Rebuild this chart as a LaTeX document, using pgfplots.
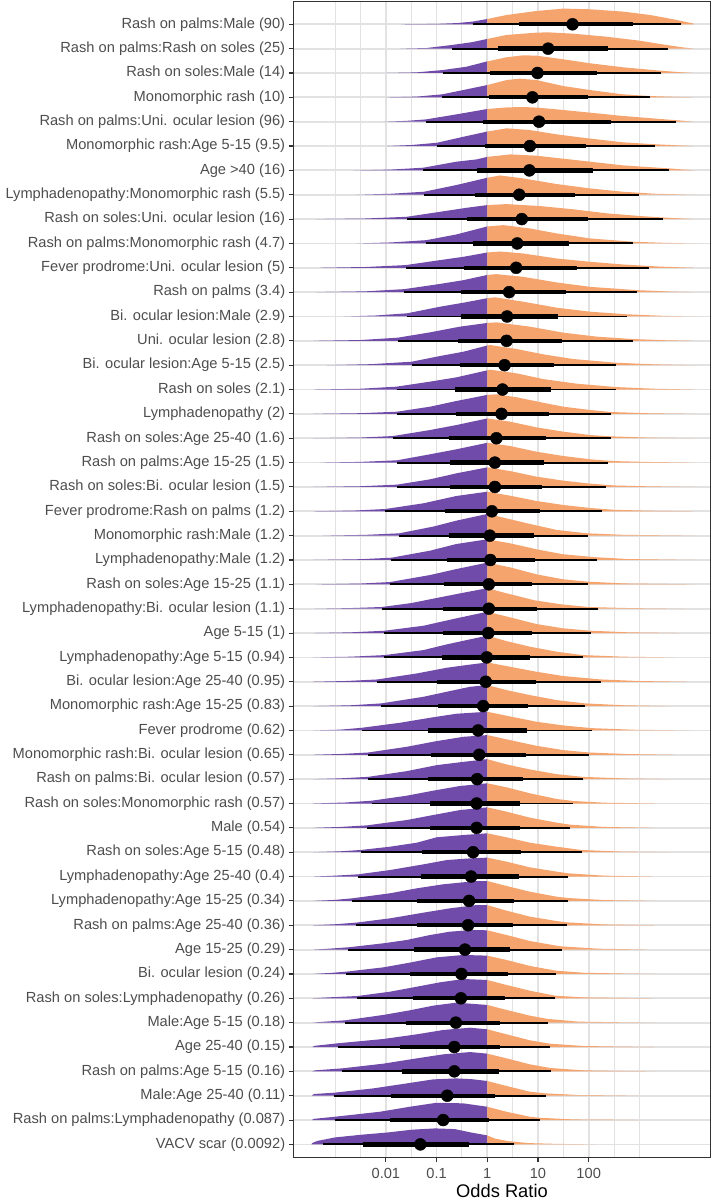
\documentclass[border=0pt]{standalone}
\usepackage{fontspec}
\setmainfont{Liberation Sans}
\usepackage{pgfplots}
\usepackage{pgfplotstable}
\pgfplotsset{compat=1.18}
\definecolor{pur}{RGB}{112,75,170}
\definecolor{ora}{RGB}{245,164,110}
\definecolor{gridc}{RGB}{226,226,226}
\definecolor{g20}{RGB}{51,51,51}
\definecolor{g30}{RGB}{77,77,77}
\newcommand\D[3]{%
 \addplot[fill=pur,draw=none] table[row sep=\\,y expr=#1+\thisrow{b}/24.35]{a b\\#2};
 \addplot[fill=ora,draw=none] table[row sep=\\,y expr=#1+\thisrow{b}/24.35]{a b\\#3};}
\pgfplotstableread{
y m a66 b66 a95 b95
47 1.68 0.63 2.87 -0.29 3.82
46 1.20 0.22 2.39 -0.69 3.57
45 0.99 0.05 2.16 -0.87 3.42
44 0.89 0.03 1.98 -0.89 3.21
43 1.02 -0.09 2.43 -1.21 3.72
42 0.84 -0.05 1.95 -0.99 3.31
41 0.83 -0.21 2.08 -1.26 3.59
40 0.63 -0.24 1.72 -1.25 3.00
39 0.68 -0.41 1.99 -1.59 3.47
38 0.59 -0.28 1.62 -1.20 2.88
37 0.57 -0.46 1.76 -1.61 3.19
36 0.43 -0.51 1.55 -1.64 2.95
35 0.39 -0.51 1.40 -1.58 2.75
34 0.38 -0.57 1.47 -1.76 2.87
33 0.34 -0.54 1.32 -1.49 2.53
32 0.30 -0.63 1.26 -1.79 2.53
31 0.28 -0.62 1.22 -1.78 2.43
30 0.18 -0.76 1.16 -1.86 2.43
29 0.15 -0.74 1.11 -1.78 2.39
28 0.15 -0.74 1.07 -1.78 2.34
27 0.09 -0.84 1.04 -2.01 2.26
26 0.05 -0.76 0.92 -1.74 1.98
25 0.06 -0.80 0.95 -1.89 2.16
24 0.03 -0.85 0.89 -1.92 1.98
23 0.03 -0.87 0.99 -2.07 2.18
22 0.02 -0.87 0.89 -2.03 2.05
21 -0.01 -0.89 0.84 -2.03 1.88
20 -0.03 -1.00 0.96 -2.17 2.24
19 -0.08 -0.97 0.80 -2.09 1.93
18 -0.18 -1.16 0.78 -2.47 2.06
17 -0.16 -1.11 0.76 -2.35 2.01
16 -0.20 -1.16 0.71 -2.35 1.88
15 -0.21 -1.13 0.64 -2.28 1.70
14 -0.21 -1.13 0.64 -2.37 1.63
13 -0.28 -1.28 0.66 -2.50 1.86
12 -0.32 -1.30 0.63 -2.55 1.60
11 -0.36 -1.38 0.53 -2.66 1.59
10 -0.38 -1.38 0.50 -2.59 1.57
9 -0.44 -1.45 0.45 -2.74 1.47
8 -0.51 -1.53 0.40 -2.78 1.35
7 -0.52 -1.46 0.35 -2.56 1.34
6 -0.62 -1.61 0.25 -2.81 1.19
5 -0.65 -1.72 0.25 -2.95 1.24
4 -0.65 -1.69 0.24 -2.86 1.25
3 -0.79 -1.89 0.15 -3.02 1.16
2 -0.87 -1.92 0.03 -3.01 1.03
1 -1.32 -2.45 -0.36 -3.25 0.53
}\iv
\begin{document}
\begin{tikzpicture}
\begin{axis}[
 at={(0,0)}, anchor=south west,
 scale only axis, width=417.4pt, height=1156.2pt,
 xmin=-3.826, xmax=4.406, ymin=0.454, ymax=47.936,
 xtick={-2,-1,0,1,2}, xticklabels={0.01,0.1,1,10,100},
 minor xtick={-3,-2.5,-1.5,-0.5,0.5,1.5,2.5,3},
 ytick={1,...,47},
 yticklabels={VACV scar (0.0092),Rash on palms:Lymphadenopathy (0.087),Male:Age 25-40 (0.11),Rash on palms:Age 5-15 (0.16),Age 25-40 (0.15),Male:Age 5-15 (0.18),Rash on soles:Lymphadenopathy (0.26),Bi. ocular lesion (0.24),Age 15-25 (0.29),Rash on palms:Age 25-40 (0.36),Lymphadenopathy:Age 15-25 (0.34),Lymphadenopathy:Age 25-40 (0.4),Rash on soles:Age 5-15 (0.48),Male (0.54),Rash on soles:Monomorphic rash (0.57),Rash on palms:Bi. ocular lesion (0.57),Monomorphic rash:Bi. ocular lesion (0.65),Fever prodrome (0.62),Monomorphic rash:Age 15-25 (0.83),Bi. ocular lesion:Age 25-40 (0.95),Lymphadenopathy:Age 5-15 (0.94),Age 5-15 (1),Lymphadenopathy:Bi. ocular lesion (1.1),Rash on soles:Age 15-25 (1.1),Lymphadenopathy:Male (1.2),Monomorphic rash:Male (1.2),Fever prodrome:Rash on palms (1.2),Rash on soles:Bi. ocular lesion (1.5),Rash on palms:Age 15-25 (1.5),Rash on soles:Age 25-40 (1.6),Lymphadenopathy (2),Rash on soles (2.1),Bi. ocular lesion:Age 5-15 (2.5),Uni. ocular lesion (2.8),Bi. ocular lesion:Male (2.9),Rash on palms (3.4),Fever prodrome:Uni. ocular lesion (5),Rash on palms:Monomorphic rash (4.7),Rash on soles:Uni. ocular lesion (16),Lymphadenopathy:Monomorphic rash (5.5),Age >40 (16),Monomorphic rash:Age 5-15 (9.5),Rash on palms:Uni. ocular lesion (96),Monomorphic rash (10),Rash on soles:Male (14),Rash on palms:Rash on soles (25),Rash on palms:Male (90)},
 xmajorgrids, xminorgrids, ymajorgrids,
 major grid style={gridc, line width=1.8pt},
 minor grid style={gridc, line width=1.0pt},
 tick align=outside, tick pos=left,
 major tick length=4.6pt, minor tick length=0pt,
 tick style={g20, line width=1.1pt},
 axis line style={g20, line width=1.1pt},
 ticklabel style={font=\fontsize{14.65}{17}\selectfont, text=g30},
 xticklabel style={yshift=-2.5pt},
 xlabel={Odds Ratio},
 xlabel style={font=\fontsize{18.3}{22}\selectfont, at={(axis description cs:0.5,0)}, anchor=base, yshift=-39.6pt},
]
\D{47}{-1.7 0\\-1.0 0.4\\-0.6 1.2\\-0.29 2.7\\0 5.3\\0 0\\}{0 0\\0 5.3\\0.38 9.3\\0.97 13.3\\1.5 15.7\\2.03 15\\2.68 12.7\\3.21 9.3\\3.67 5\\3.95 2\\4.06 0.8\\4.08 0\\}
\D{46}{-1.72 0\\-1.2 0.6\\-0.69 3.7\\-0.3 6.5\\0 9.7\\0 0\\}{0 0\\0 9.7\\0.38 13.7\\0.97 16\\1.2 16.3\\1.69 15\\2.34 12\\3.0 8\\3.53 3.7\\3.85 1.3\\4.08 0\\}
\D{45}{-2.0 0\\-1.4 0.6\\-0.87 3\\-0.41 6.3\\0 11.6\\0 0\\}{0 0\\0 11.6\\0.38 15.7\\0.71 17.7\\0.97 17.3\\1.5 13.7\\2.03 9.7\\2.68 5.7\\3.42 2.3\\3.8 0.8\\4.08 0\\}
\D{44}{-2.0 0\\-1.4 0.7\\-0.89 3\\-0.41 8\\0 12.3\\0 0\\}{0 0\\0 12.3\\0.38 17.3\\0.64 18.7\\0.97 17.3\\1.5 11.3\\2.03 7.3\\2.68 3\\3.21 1.3\\3.7 0.5\\4.08 0\\}
\D{43}{-2.05 0\\-1.6 0.8\\-1.21 2.3\\-0.61 7.3\\0 12.7\\0 0\\}{0 0\\0 12.7\\0.38 14.3\\0.71 14.7\\1.0 14\\1.38 12.3\\2.03 9\\2.68 5.7\\3.34 3\\3.8 1.2\\4.08 0\\}
\D{42}{-2.0 0\\-1.5 1\\-0.99 3.3\\-0.47 9.3\\0 14.5\\0 0\\}{0 0\\0 14.5\\0.38 17.7\\0.84 16\\1.37 11.7\\1.89 8.3\\2.68 3.7\\3.34 1.7\\3.8 0.6\\4.08 0\\}
\D{41}{-2.64 0\\-1.9 0.8\\-1.26 2.7\\-0.61 8.7\\-0.21 11\\0 13.5\\0 0\\}{0 0\\0 13.5\\0.45 16\\0.97 14.7\\1.5 11.7\\2.03 8.7\\2.68 5\\3.59 2\\3.9 0.7\\4.08 0\\}
\D{40}{-2.58 0\\-1.9 1\\-1.25 3\\-0.61 9.7\\0 17\\0 0\\}{0 0\\0 17\\0.25 19.3\\0.71 16.3\\1.37 10.7\\2.03 6.3\\2.68 3\\3.3 1\\3.8 0.4\\4.08 0\\}
\D{39}{-3.37 0\\-2.4 0.6\\-1.59 2.3\\-0.93 7.3\\-0.41 11.3\\0 14\\0 0\\}{0 0\\0 14\\0.38 15\\1.05 13\\1.71 9.7\\2.37 5.7\\3.03 3\\3.6 1.2\\4.08 0\\}
\D{38}{-2.58 0\\-1.9 1\\-1.2 3.3\\-0.61 9\\0 17\\0 0\\}{0 0\\0 17\\0.32 18.3\\0.84 15\\1.37 10\\2.03 5\\2.88 1.7\\3.5 0.6\\4.08 0\\}
\D{37}{-3.3 0\\-2.4 0.8\\-1.61 2.7\\-0.93 7.7\\-0.47 11\\0 15.3\\0 0\\}{0 0\\0 15.3\\0.25 16.3\\0.71 14.3\\1.37 9.3\\2.03 6\\2.68 3.3\\3.4 1.2\\4.08 0\\}
\D{36}{-3.37 0\\-2.4 0.8\\-1.64 3\\-1.0 7.7\\-0.47 12\\0 17.2\\0 0\\}{0 0\\0 17.2\\0.18 18\\0.71 15.3\\1.37 9.7\\2.03 5.3\\2.95 2\\3.6 0.6\\4.08 0\\}
\D{35}{-2.84 0\\-2.2 1\\-1.58 3.2\\-0.93 9.8\\-0.47 13.8\\0 18.3\\0 0\\}{0 0\\0 18.3\\0.15 19.2\\0.71 14.8\\1.37 8.8\\2.03 4.8\\2.75 2.2\\3.5 0.6\\4.08 0\\}
\D{34}{-3.43 0\\-2.5 0.8\\-1.76 3.2\\-1.13 8.5\\-0.54 14.2\\0 17.9\\0 0\\}{0 0\\0 17.9\\0.18 18.5\\0.84 14.2\\1.5 8.2\\2.16 4.2\\2.87 1.8\\3.5 0.6\\4.08 0\\}
\D{33}{-3.17 0\\-2.3 1\\-1.49 3.5\\-0.93 9.2\\-0.47 13.5\\0 19.7\\0 0\\}{0 0\\0 19.7\\0.05 20.2\\0.58 16.2\\1.1 10.9\\1.69 6.2\\2.53 2.5\\3.3 0.8\\4.08 0\\}
\D{32}{-3.43 0\\-2.5 0.8\\-1.79 2.9\\-1.13 7.9\\-0.61 12.2\\0 19.2\\0 0\\}{0 0\\0 19.2\\0.05 19.9\\0.58 16.2\\1.1 10.5\\1.76 5.9\\2.53 2.5\\3.3 0.8\\4.08 0\\}
\D{31}{-3.43 0\\-2.5 0.7\\-1.78 2.2\\-1.13 7.2\\-0.61 12.9\\0 19\\0 0\\}{0 0\\0 19\\0.18 19.6\\0.58 16.6\\1.1 11.2\\1.5 7.2\\2.03 3.9\\2.43 1.9\\3.2 0.6\\4.08 0\\}
\D{30}{-3.43 0\\-2.5 0.7\\-1.86 2.2\\-1.13 8.2\\-0.61 13.2\\0 19.8\\0 0\\}{0 0\\0 19.8\\0.45 16.6\\0.97 10.9\\1.5 6.6\\2.03 3.2\\2.43 1.9\\3.2 0.6\\4.08 0\\}
\D{29}{-3.3 0\\-2.5 0.7\\-1.78 2.3\\-1.13 8.3\\-0.61 13.3\\0 19.8\\0 0\\}{0 0\\0 19.8\\0.45 16.6\\0.97 10.9\\1.5 6.6\\2.03 3.3\\2.5 1.5\\3.2 0.6\\4.08 0\\}
\D{28}{-3.43 0\\-2.5 0.7\\-1.78 2.3\\-1.13 7.6\\-0.61 13.6\\0 19.6\\0 0\\}{0 0\\0 19.6\\0.45 15.9\\0.97 10.3\\1.5 6.3\\2.03 3.3\\2.5 1.5\\3.2 0.6\\4.08 0\\}
\D{27}{-3.43 0\\-2.6 0.8\\-2.01 2.3\\-1.26 8\\-0.61 15.3\\0 19.6\\0 0\\}{0 0\\0 19.6\\0.45 15.6\\0.97 10.3\\1.5 6.3\\2.03 3.3\\2.5 1.5\\3.2 0.6\\4.08 0\\}
\D{26}{-3.24 0\\-2.4 0.8\\-1.74 2.3\\-1.07 9\\-0.61 15\\0 21.7\\0 0\\}{0 0\\0 21.7\\0.38 17.3\\0.84 11.7\\1.37 5.7\\1.98 2.3\\2.7 0.8\\4.08 0\\}
\D{25}{-3.43 0\\-2.5 0.8\\-1.89 2.3\\-1.13 9.3\\-0.61 16\\0 20.7\\0 0\\}{0 0\\0 20.7\\0.45 16.7\\0.97 10.7\\1.5 5.7\\2.16 2.7\\2.8 0.9\\4.08 0\\}
\D{24}{-3.37 0\\-2.5 0.8\\-1.92 2.3\\-1.13 9.3\\-0.61 15.3\\0 21.7\\0 0\\}{0 0\\0 21.7\\0.45 17\\0.97 10\\1.5 5\\1.98 2.7\\2.7 0.9\\4.08 0\\}
\D{23}{-3.4 0\\-2.7 0.6\\-2.08 1.7\\-1.49 5.7\\-0.9 11.7\\-0.5 15.7\\0 20.5\\0 0\\}{0 0\\0 20.5\\0.41 15\\0.94 8.3\\1.47 4.3\\1.99 1.7\\2.8 0.6\\3.9 0\\}
\D{22}{-3.43 0\\-2.7 0.7\\-2.03 2.3\\-1.26 7.3\\-0.61 14.7\\0 21.3\\0 0\\}{0 0\\0 21.3\\0.45 15.7\\0.97 9\\1.5 4.7\\2.05 2.3\\2.8 0.7\\3.8 0\\}
\D{21}{-3.43 0\\-2.7 0.7\\-2.03 2.3\\-1.26 7.3\\-0.8 13\\-0.41 17.3\\0 21.7\\0 0\\}{0 0\\0 21.7\\0.38 16.3\\0.84 10.7\\1.37 5.7\\1.88 2.3\\2.7 0.7\\3.7 0\\}
\D{20}{-3.43 0\\-2.8 0.7\\-2.17 2.3\\-1.39 8.3\\-0.8 14\\-0.41 16.7\\0 19.3\\0 0\\}{0 0\\0 19.3\\0.45 15\\0.97 10\\1.5 5.7\\2.24 2.3\\3.0 0.7\\3.93 0\\}
\D{19}{-3.43 0\\-2.7 0.8\\-2.09 2.7\\-1.26 9.3\\-0.74 15\\-0.34 19.3\\0 21\\0 0\\}{0 0\\0 21\\0.38 16\\0.84 11\\1.37 6\\1.93 2.7\\2.7 0.8\\3.6 0\\}
\D{18}{-3.43 0\\-2.9 0.8\\-2.47 2.7\\-1.72 7.7\\-1.13 12.7\\-0.61 16.7\\0 18.7\\0 0\\}{0 0\\0 18.7\\0.45 14\\0.97 8.7\\1.5 5\\2.06 2.3\\2.9 0.7\\4.0 0\\}
\D{17}{-3.43 0\\-2.9 0.8\\-2.35 2.3\\-1.59 8\\-1.0 13.7\\-0.47 18\\0 19.7\\0 0\\}{0 0\\0 19.7\\0.45 14.7\\0.97 9\\1.5 4.7\\2.01 2.3\\2.8 0.7\\3.7 0\\}
\D{16}{-3.43 0\\-2.9 0.8\\-2.35 2.3\\-1.59 8\\-1.0 14\\-0.47 17.3\\0 20\\0 0\\}{0 0\\0 20\\0.38 14.7\\0.84 9.7\\1.37 5\\1.88 2.3\\2.7 0.7\\3.6 0\\}
\D{15}{-3.43 0\\-2.8 1\\-2.28 2.8\\-1.59 7.8\\-1.07 12.8\\-0.54 17.5\\0 20.2\\0 0\\}{0 0\\0 20.2\\0.38 16.2\\0.84 10.2\\1.37 4.5\\1.7 2.5\\2.3 0.8\\3.3 0\\}
\D{14}{-3.43 0\\-2.9 0.9\\-2.37 2.5\\-1.59 7.8\\-1.07 12.8\\-0.54 17.8\\0 20.5\\0 0\\}{0 0\\0 20.5\\0.38 16.2\\0.84 10.2\\1.37 5.2\\1.63 3.2\\2.3 0.9\\3.3 0\\}
\D{13}{-3.43 0\\-2.9 0.9\\-2.5 2.2\\-1.92 5.5\\-1.39 9.5\\-1.0 14.9\\-0.47 17.2\\0 18.9\\0 0\\}{0 0\\0 18.9\\0.38 14.9\\0.84 9.5\\1.37 5.5\\1.86 2.2\\2.6 0.7\\3.6 0\\}
\D{12}{-3.43 0\\-3.0 0.9\\-2.55 2.2\\-1.92 6.5\\-1.26 12.2\\-0.8 16.5\\-0.34 18.2\\0 18.9\\0 0\\}{0 0\\0 18.9\\0.38 14.9\\0.84 9.2\\1.37 4.9\\1.6 3.2\\2.3 0.9\\3.3 0\\}
\D{11}{-3.43 0\\-3.0 1\\-2.66 2.6\\-1.92 7.6\\-1.39 12.6\\-0.87 16.6\\-0.21 19.9\\0 19.9\\0 0\\}{0 0\\0 19.9\\0.38 14.9\\0.84 9.2\\1.37 4.2\\1.59 2.9\\2.3 0.8\\3.3 0\\}
\D{10}{-3.43 0\\-3.0 1\\-2.59 2.6\\-1.92 6.9\\-1.26 12.6\\-0.74 16.9\\-0.21 20.2\\0 20.1\\0 0\\}{0 0\\0 20.1\\0.38 14.6\\0.84 8.6\\1.37 4.2\\1.57 2.9\\2.3 0.8\\3.3 0\\}
\D{9}{-3.43 0\\-3.1 1\\-2.74 2.3\\-2.05 6.3\\-1.59 9.6\\-1.13 14.6\\-0.74 17.9\\-0.3 19.6\\0 19.3\\0 0\\}{0 0\\0 19.3\\0.38 14.6\\0.84 8.6\\1.37 3.9\\1.47 3.2\\2.2 0.9\\3.2 0\\}
\D{8}{-3.43 0\\-3.1 1\\-2.78 2.3\\-2.05 6.6\\-1.53 11.3\\-1.0 16.6\\-0.47 19\\0 18.3\\0 0\\}{0 0\\0 18.3\\0.38 14\\0.84 8\\1.35 3.3\\1.9 1.2\\2.6 0.5\\3.3 0\\}
\D{7}{-3.45 0\\-3.1 1\\-2.56 2.3\\-1.92 6.6\\-1.39 11.6\\-0.93 16\\-0.47 19.3\\0 18.3\\0 0\\}{0 0\\0 18.3\\0.38 13.3\\0.84 7.6\\1.34 2.6\\1.9 0.9\\2.6 0.4\\3.3 0\\}
\D{6}{-3.45 0\\-3.2 1\\-2.81 2.3\\-2.05 7.7\\-1.53 12.3\\-1.07 17\\-0.61 20\\0 17.7\\0 0\\}{0 0\\0 17.7\\0.38 12.7\\0.84 7\\1.19 3.7\\1.8 1\\2.6 0.4\\3.3 0\\}
\D{5}{-3.45 0\\-3.4 1.2\\-2.95 3.7\\-2.05 8\\-1.39 12.7\\-0.87 17\\-0.34 19.3\\0 17.7\\0 0\\}{0 0\\0 17.7\\0.38 12.7\\0.84 6.7\\1.24 3.3\\1.9 1\\2.6 0.4\\3.3 0\\}
\D{4}{-3.45 0\\-3.4 1\\-2.86 3\\-2.05 7.7\\-1.39 13\\-0.87 17\\-0.34 19.3\\0 17.7\\0 0\\}{0 0\\0 17.7\\0.38 13\\0.84 7\\1.25 3.3\\1.9 1\\2.6 0.4\\3.3 0\\}
\D{3}{-3.46 0\\-3.42 1.7\\-3.02 3\\-2.25 7.3\\-1.59 12.3\\-1.07 16.3\\-0.61 17.3\\-0.3 16.5\\0 14.7\\0 0\\}{0 0\\0 14.7\\0.38 9.7\\0.84 4\\1.16 2.3\\1.8 0.7\\2.6 0.3\\3.0 0\\}
\D{2}{-3.46 0\\-3.42 1.2\\-3.01 3.3\\-2.12 8.3\\-1.53 13.3\\-1.0 17.3\\-0.47 16.7\\0 13.3\\0 0\\}{0 0\\0 13.3\\0.38 8.3\\0.84 3.3\\1.03 2.3\\1.7 0.6\\2.5 0.3\\3.0 0\\}
\D{1}{-3.47 0\\-3.45 1.5\\-3.35 3.5\\-3.0 7\\-2.48 9.7\\-1.95 12\\-1.49 14.7\\-1.03 16\\-0.64 15.3\\-0.31 11.8\\0 9\\0 0\\}{0 0\\0 9\\0.15 5.8\\0.41 3.3\\0.81 1.3\\1.4 0.5\\2.12 0\\}
\addplot[only marks, mark=none, error bars/.cd, x dir=both, x explicit, error mark=none, error bar style={draw=black, line width=1.9pt}]
 table[x=m, y=y, x error plus expr=\thisrow{b95}-\thisrow{m}, x error minus expr=\thisrow{m}-\thisrow{a95}] {\iv};
\addplot[only marks, mark=none, error bars/.cd, x dir=both, x explicit, error mark=none, error bar style={draw=black, line width=4.3pt}]
 table[x=m, y=y, x error plus expr=\thisrow{b66}-\thisrow{m}, x error minus expr=\thisrow{m}-\thisrow{a66}] {\iv};
\addplot[only marks, mark=*, mark size=6pt, draw=black, fill=black] table[x=m, y=y] {\iv};
\end{axis}
\pgfresetboundingbox
\path (-293.3pt,-42.3pt) rectangle (420.7pt,1157.7pt);
\end{tikzpicture}
\end{document}
